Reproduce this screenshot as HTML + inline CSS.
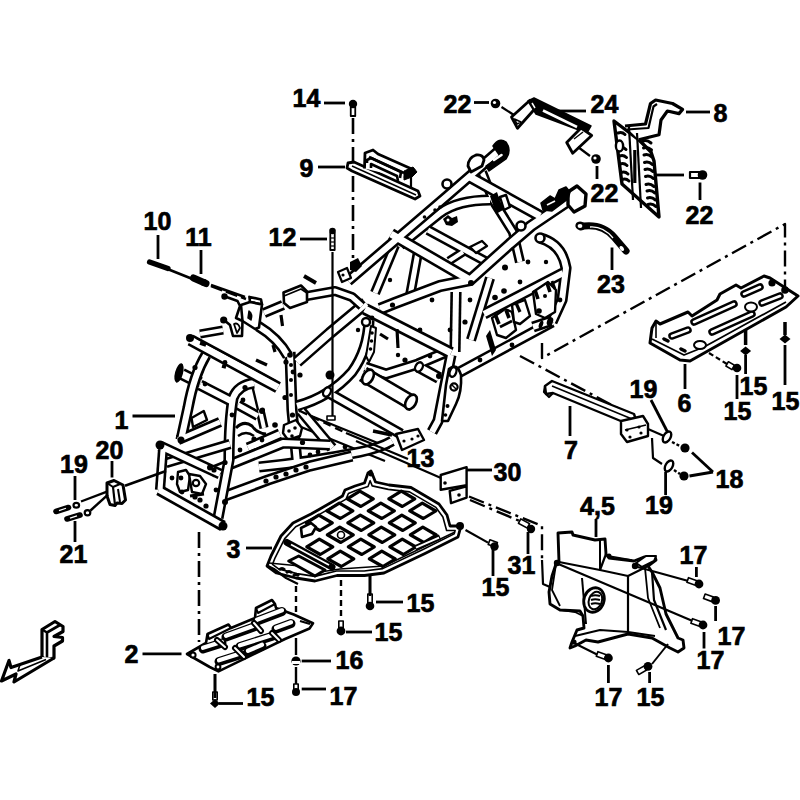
<!DOCTYPE html><html><head><meta charset="utf-8"><style>html,body{margin:0;padding:0;background:#fff;width:800px;height:800px;overflow:hidden}svg{display:block}</style></head><body>
<svg width="800" height="800" viewBox="0 0 800 800">
<rect width="800" height="800" fill="#fff"/>
<g stroke="#000" stroke-linecap="butt" stroke-linejoin="round" fill="none">
<path d="M540,238 Q 562,244 566,268 L 562,300 L 552,322" stroke-width="11.2" fill="none" stroke="#000" stroke-linecap="butt" stroke-linejoin="round"/>
<polyline points="484,314 563,273" stroke-width="11.2" fill="none" stroke="#000" stroke-linecap="butt" stroke-linejoin="round"/>
<polyline points="458,373 552,322" stroke-width="11.2" fill="none" stroke="#000" stroke-linecap="butt" stroke-linejoin="round"/>
<polyline points="456,292 455,352" stroke-width="11.2" fill="none" stroke="#000" stroke-linecap="butt" stroke-linejoin="round"/>
<polyline points="490,278 471,340" stroke-width="10.2" fill="none" stroke="#000" stroke-linecap="butt" stroke-linejoin="round"/>
<polyline points="428,230 485,261" stroke-width="10.2" fill="none" stroke="#000" stroke-linecap="butt" stroke-linejoin="round"/>
<polyline points="449,261 463,252" stroke-width="9.2" fill="none" stroke="#000" stroke-linecap="butt" stroke-linejoin="round"/>
<polyline points="482,172 493,200 513,232 520,262" stroke-width="10.2" fill="none" stroke="#000" stroke-linecap="butt" stroke-linejoin="round"/>
<path d="M400,245 L 440,213 Q 458,200 490,200" stroke-width="11.2" fill="none" stroke="#000" stroke-linecap="butt" stroke-linejoin="round"/>
<polyline points="395,245 375,293" stroke-width="10.2" fill="none" stroke="#000" stroke-linecap="butt" stroke-linejoin="round"/>
<polyline points="418,252 410,296" stroke-width="10.2" fill="none" stroke="#000" stroke-linecap="butt" stroke-linejoin="round"/>
<path d="M540,238 Q 562,244 566,268 L 562,300 L 552,322" stroke-width="6" fill="none" stroke="#fff" stroke-linecap="butt" stroke-linejoin="round"/>
<polyline points="484,314 563,273" stroke-width="6" fill="none" stroke="#fff" stroke-linecap="butt" stroke-linejoin="round"/>
<polyline points="458,373 552,322" stroke-width="6" fill="none" stroke="#fff" stroke-linecap="butt" stroke-linejoin="round"/>
<polyline points="456,292 455,352" stroke-width="6" fill="none" stroke="#fff" stroke-linecap="butt" stroke-linejoin="round"/>
<polyline points="490,278 471,340" stroke-width="5" fill="none" stroke="#fff" stroke-linecap="butt" stroke-linejoin="round"/>
<polyline points="428,230 485,261" stroke-width="5" fill="none" stroke="#fff" stroke-linecap="butt" stroke-linejoin="round"/>
<polyline points="449,261 463,252" stroke-width="4" fill="none" stroke="#fff" stroke-linecap="butt" stroke-linejoin="round"/>
<polyline points="482,172 493,200 513,232 520,262" stroke-width="5" fill="none" stroke="#fff" stroke-linecap="butt" stroke-linejoin="round"/>
<path d="M400,245 L 440,213 Q 458,200 490,200" stroke-width="6" fill="none" stroke="#fff" stroke-linecap="butt" stroke-linejoin="round"/>
<polyline points="395,245 375,293" stroke-width="5" fill="none" stroke="#fff" stroke-linecap="butt" stroke-linejoin="round"/>
<polyline points="418,252 410,296" stroke-width="5" fill="none" stroke="#fff" stroke-linecap="butt" stroke-linejoin="round"/>
<polyline points="391,234 470,280" stroke-width="12.2" fill="none" stroke="#000" stroke-linecap="butt" stroke-linejoin="round"/>
<polyline points="470,177 540,216" stroke-width="12.2" fill="none" stroke="#000" stroke-linecap="butt" stroke-linejoin="round"/>
<polyline points="348,281 447,196 470,176 501,149" stroke-width="11.2" fill="none" stroke="#000" stroke-linecap="butt" stroke-linejoin="round"/>
<polyline points="574,197 531,226 510,244 470,280 440,286 395,303 380,309" stroke-width="12.2" fill="none" stroke="#000" stroke-linecap="butt" stroke-linejoin="round"/>
<polyline points="391,234 470,280" stroke-width="7" fill="none" stroke="#fff" stroke-linecap="butt" stroke-linejoin="round"/>
<polyline points="470,177 540,216" stroke-width="7" fill="none" stroke="#fff" stroke-linecap="butt" stroke-linejoin="round"/>
<polyline points="348,281 447,196 470,176 501,149" stroke-width="6" fill="none" stroke="#fff" stroke-linecap="butt" stroke-linejoin="round"/>
<polyline points="574,197 531,226 510,244 470,280 440,286 395,303 380,309" stroke-width="7" fill="none" stroke="#fff" stroke-linecap="butt" stroke-linejoin="round"/>
<path d="M470,247 L482,241 L487,246 L476,253 Z" fill="#fff" stroke-width="2.4"/>
<path d="M493,146 Q 499,137 506,142 Q 512,150 506,159 L 489,171 L 486,166 L 500,156 Z" fill="#000" stroke-width="1.5"/>
<line x1="494" y1="160" x2="501.5" y2="155" stroke="#fff" stroke-width="2.6" stroke-linecap="round"/>
<path d="M468,166 Q 468,158 476,155 Q 483,154 484,160 L 482,166 L 471,172 Z" fill="#fff" stroke-width="2.8"/>
<path d="M568,192 L577,186 L586,194 L585,206 L574,212 L568,205 Z" fill="#fff" stroke-width="3.4" stroke-linejoin="round"/>
<path d="M543,210 L541,203 L550,196 L555,199 L559,190 L566,187 L570,192 L568,199 L552,211 Z" fill="#000" stroke-width="1.5"/>
<path d="M547,205 L555,201" stroke="#fff" stroke-width="1.8"/>
<circle cx="447" cy="184" r="4.5" fill="#fff" stroke-width="2.6"/>
<circle cx="521" cy="226" r="4.5" fill="#fff" stroke-width="2.6"/>
<circle cx="540" cy="238" r="4.5" fill="#fff" stroke-width="2.6"/>
<circle cx="424.5" cy="217" r="1.8" fill="#000" stroke="none"/>
<circle cx="435" cy="210" r="1.8" fill="#000" stroke="none"/>
<circle cx="440" cy="207" r="1.8" fill="#000" stroke="none"/>
<path d="M490,196 L497,192 L503,210 L496,214 Z" fill="#000" stroke="none"/>
<path d="M500,197 L506,195 L510,207 L504,210 Z" fill="#fff" stroke-width="2.4"/>
<path d="M492,318 L505,309 L512,312 L516,330 L506,338 L497,335 Z" fill="#fff" stroke-width="2.4"/>
<line x1="495" y1="314" x2="499" y2="324" stroke-width="3.6"/>
<line x1="506" y1="310" x2="509" y2="318" stroke-width="3.6"/>
<line x1="500" y1="327" x2="512" y2="321" stroke-width="2.8"/>
<path d="M512,305 L525,300 L530,316 L520,324 L514,322 Z" fill="#fff" stroke-width="2.4"/>
<line x1="516" y1="303" x2="520" y2="312" stroke-width="3.2"/>
<path d="M533,292 L548,282 L556,290 L555,312 L545,318 L536,314 Z" fill="#fff" stroke-width="2.4"/>
<line x1="535" y1="290" x2="538" y2="299" stroke-width="3.6"/>
<line x1="547" y1="283" x2="550" y2="292" stroke-width="3.6"/>
<line x1="552" y1="281" x2="555" y2="289" stroke-width="2.8"/>
<circle cx="539" cy="311" r="2.8" fill="#000" stroke="none"/>
<circle cx="545" cy="296" r="2" fill="#000" stroke="none"/>
<polyline points="533,327 551,321" stroke-width="11.2" fill="none" stroke="#000" stroke-linecap="butt" stroke-linejoin="round"/>
<polyline points="533,327 551,321" stroke-width="6" fill="none" stroke="#fff" stroke-linecap="butt" stroke-linejoin="round"/>
<ellipse cx="550" cy="321.5" rx="3" ry="4.5" fill="#000" stroke="none" transform="rotate(20 550 321.5)"/>
<ellipse cx="541" cy="324.5" rx="2" ry="4" fill="#000" stroke="none" transform="rotate(20 541 324.5)"/>
<circle cx="505" cy="267.5" r="3" fill="#000" stroke="none"/>
<circle cx="504" cy="291" r="2.8" fill="#000" stroke="none"/>
<circle cx="495" cy="297.5" r="2.8" fill="#000" stroke="none"/>
<circle cx="471" cy="283" r="3" fill="#000" stroke="none"/>
<path d="M486,336 L490,330 L496,350 L492,356 Z" fill="#000" stroke="none"/>
<polyline points="365,367 386,374 418,364 444,353" stroke-width="11.2" fill="none" stroke="#000" stroke-linecap="butt" stroke-linejoin="round"/>
<polyline points="419,367 439,378" stroke-width="12.2" fill="none" stroke="#000" stroke-linecap="butt" stroke-linejoin="round"/>
<polyline points="365,367 386,374 418,364 444,353" stroke-width="6" fill="none" stroke="#fff" stroke-linecap="butt" stroke-linejoin="round"/>
<polyline points="419,367 439,378" stroke-width="7" fill="none" stroke="#fff" stroke-linecap="butt" stroke-linejoin="round"/>
<ellipse cx="419" cy="367" rx="3.5" ry="5" fill="#fff" stroke-width="2.4" transform="rotate(30 419 367)"/>
<polyline points="363,374 414,404" stroke-width="16.2" fill="none" stroke="#000" stroke-linecap="butt" stroke-linejoin="round"/>
<polyline points="363,374 414,404" stroke-width="11" fill="none" stroke="#fff" stroke-linecap="butt" stroke-linejoin="round"/>
<ellipse cx="368" cy="377" rx="5" ry="8" fill="#fff" stroke-width="2.6" transform="rotate(30 368 377)"/>
<ellipse cx="411" cy="402" rx="5" ry="8" fill="#fff" stroke-width="2.6" transform="rotate(30 411 402)"/>
<polyline points="299,411 390,448" stroke-width="2.4" fill="none"/>
<polyline points="301,427 385,461" stroke-width="2.4" fill="none"/>
<path d="M369,320 Q 368,350 352,372 Q 330,397 297,406" stroke-width="11.2" fill="none" stroke="#000" stroke-linecap="butt" stroke-linejoin="round"/>
<polyline points="451,355 445,385 438,421 432,432" stroke-width="11.2" fill="none" stroke="#000" stroke-linecap="butt" stroke-linejoin="round"/>
<polyline points="297,362 330,333 366,303" stroke-width="12.2" fill="none" stroke="#000" stroke-linecap="butt" stroke-linejoin="round"/>
<polyline points="365,309 451,353" stroke-width="12.2" fill="none" stroke="#000" stroke-linecap="butt" stroke-linejoin="round"/>
<polyline points="327,392 401,434" stroke-width="11.2" fill="none" stroke="#000" stroke-linecap="butt" stroke-linejoin="round"/>
<path d="M259,467 Q 310,462 360,452 Q 380,448 392,441" stroke-width="11.2" fill="none" stroke="#000" stroke-linecap="butt" stroke-linejoin="round"/>
<polyline points="301,411 332,448" stroke-width="11.2" fill="none" stroke="#000" stroke-linecap="butt" stroke-linejoin="round"/>
<polyline points="290,352 292,410 297,463" stroke-width="11.2" fill="none" stroke="#000" stroke-linecap="butt" stroke-linejoin="round"/>
<polyline points="248,448 280,434" stroke-width="11.2" fill="none" stroke="#000" stroke-linecap="butt" stroke-linejoin="round"/>
<path d="M369,320 Q 368,350 352,372 Q 330,397 297,406" stroke-width="6" fill="none" stroke="#fff" stroke-linecap="butt" stroke-linejoin="round"/>
<polyline points="451,355 445,385 438,421 432,432" stroke-width="6" fill="none" stroke="#fff" stroke-linecap="butt" stroke-linejoin="round"/>
<polyline points="297,362 330,333 366,303" stroke-width="7" fill="none" stroke="#fff" stroke-linecap="butt" stroke-linejoin="round"/>
<polyline points="365,309 451,353" stroke-width="7" fill="none" stroke="#fff" stroke-linecap="butt" stroke-linejoin="round"/>
<polyline points="327,392 401,434" stroke-width="6" fill="none" stroke="#fff" stroke-linecap="butt" stroke-linejoin="round"/>
<path d="M259,467 Q 310,462 360,452 Q 380,448 392,441" stroke-width="6" fill="none" stroke="#fff" stroke-linecap="butt" stroke-linejoin="round"/>
<polyline points="301,411 332,448" stroke-width="6" fill="none" stroke="#fff" stroke-linecap="butt" stroke-linejoin="round"/>
<polyline points="290,352 292,410 297,463" stroke-width="6" fill="none" stroke="#fff" stroke-linecap="butt" stroke-linejoin="round"/>
<polyline points="248,448 280,434" stroke-width="6" fill="none" stroke="#fff" stroke-linecap="butt" stroke-linejoin="round"/>
<path d="M449,369 Q 457,362 461,375 Q 462,392 456,404 L 448,421 L 442,421 L 446,385 Z" fill="#fff" stroke-width="2.6"/>
<ellipse cx="453" cy="372" rx="3.2" ry="5" fill="#fff" stroke-width="2.4" transform="rotate(20 453 372)"/>
<circle cx="454" cy="387" r="3.6" fill="#fff" stroke-width="2.2"/>
<line x1="452" y1="385" x2="456" y2="389" stroke-width="1.4"/>
<circle cx="447.5" cy="406" r="2" fill="#000" stroke="none"/>
<circle cx="445.5" cy="415" r="1.8" fill="#000" stroke="none"/>
<circle cx="439" cy="376" r="3" fill="#000" stroke="none"/>
<ellipse cx="327" cy="392" rx="3.5" ry="5" fill="#fff" stroke-width="2.4" transform="rotate(30 327 392)"/>
<line x1="373" y1="431" x2="392" y2="435" stroke-width="3.5"/>
<polygon points="396,434 418,429 424,440 402,450" fill="#fff" stroke-width="2.4"/>
<circle cx="404" cy="441" r="1.6" fill="#000" stroke="none"/>
<circle cx="412" cy="439" r="1.6" fill="#000" stroke="none"/>
<circle cx="418" cy="436" r="1.6" fill="#000" stroke="none"/>
<path d="M284,425 L296,420 L302,428 L300,436 L288,440 L283,433 Z" fill="#fff" stroke-width="2.4"/>
<circle cx="289" cy="431" r="1.8" fill="#000" stroke="none"/>
<circle cx="295" cy="428" r="1.8" fill="#000" stroke="none"/>
<circle cx="292" cy="436" r="1.8" fill="#000" stroke="none"/>
<circle cx="291" cy="365" r="2" fill="#000" stroke="none"/>
<circle cx="291" cy="380" r="2" fill="#000" stroke="none"/>
<circle cx="291" cy="395" r="2" fill="#000" stroke="none"/>
<line x1="397" y1="329" x2="398" y2="348" stroke-width="3.2"/>
<line x1="380" y1="334" x2="388" y2="339" stroke-width="3.2"/>
<circle cx="405" cy="360" r="2.6" fill="#000" stroke="none"/>
<circle cx="330" cy="375" r="4.5" fill="#000" stroke="none"/>
<path d="M258,326 Q 278,338 288,356" stroke-width="11.2" fill="none" stroke="#000" stroke-linecap="butt" stroke-linejoin="round"/>
<polyline points="264,313 283,305" stroke-width="10.2" fill="none" stroke="#000" stroke-linecap="butt" stroke-linejoin="round"/>
<polyline points="307,296 335,291 352,297 362,306" stroke-width="10.2" fill="none" stroke="#000" stroke-linecap="butt" stroke-linejoin="round"/>
<polyline points="200,334 223,330" stroke-width="9.2" fill="none" stroke="#000" stroke-linecap="butt" stroke-linejoin="round"/>
<path d="M258,326 Q 278,338 288,356" stroke-width="6" fill="none" stroke="#fff" stroke-linecap="butt" stroke-linejoin="round"/>
<polyline points="264,313 283,305" stroke-width="5" fill="none" stroke="#fff" stroke-linecap="butt" stroke-linejoin="round"/>
<polyline points="307,296 335,291 352,297 362,306" stroke-width="5" fill="none" stroke="#fff" stroke-linecap="butt" stroke-linejoin="round"/>
<polyline points="200,334 223,330" stroke-width="4" fill="none" stroke="#fff" stroke-linecap="butt" stroke-linejoin="round"/>
<polygon points="283.5,292.5 301,285.5 307,291.5 307,302 290,308 284,303" fill="#fff" stroke-width="2.6"/>
<polyline points="284,296 301,289 307,293" stroke-width="1.8" fill="none"/>
<polygon points="249.4,296.9 261,299.4 262,304.4 250,302" fill="#fff" stroke-width="2.6"/>
<path d="M241,305 L250,302 L262,304.4 L259,327.5 L255,329 L242.5,321 Z" fill="#fff" stroke-width="2.6"/>
<path d="M249,311 Q 253,314 251,320 L248,318 Z" fill="#000" stroke-width="1.5"/>
<path d="M223.7,296 L237.5,301 L240,306 L236,318 L242.5,321 L242,336 L233,336 L230,325 L224,320" fill="#fff" stroke-width="2.6"/>
<path d="M234,324 Q 238,322 240,328 L 237,333 Z" fill="#fff" stroke-width="1.8"/>
<circle cx="224.5" cy="296.5" r="3.2" fill="#000" stroke="none"/>
<circle cx="223.7" cy="320" r="3.6" fill="#000" stroke="none"/>
<line x1="211" y1="285" x2="245" y2="297" stroke-width="2.6"/>
<circle cx="204" cy="282.5" r="3.5" fill="#000" stroke="none"/>
<line x1="281" y1="315" x2="282.5" y2="326" stroke-width="3.2"/>
<line x1="304" y1="276" x2="316" y2="283" stroke-width="3.8"/>
<circle cx="366" cy="322" r="4" fill="#fff" stroke-width="2.4"/>
<path d="M371,326 L376,328 L374,352 L369,362 L366,356 Z" fill="#fff" stroke-width="2"/>
<circle cx="372" cy="333" r="1.8" fill="#000" stroke="none"/>
<circle cx="371.5" cy="341" r="1.8" fill="#000" stroke="none"/>
<circle cx="370.5" cy="349" r="1.8" fill="#000" stroke="none"/>
<line x1="273" y1="345" x2="275" y2="352" stroke-width="3.2"/>
<line x1="256" y1="360" x2="267" y2="365" stroke-width="3.4"/>
<polyline points="238,405 258,416" stroke-width="10.2" fill="none" stroke="#000" stroke-linecap="butt" stroke-linejoin="round"/>
<polyline points="260,410 264,428" stroke-width="9.2" fill="none" stroke="#000" stroke-linecap="butt" stroke-linejoin="round"/>
<polyline points="238,405 258,416" stroke-width="5" fill="none" stroke="#fff" stroke-linecap="butt" stroke-linejoin="round"/>
<polyline points="260,410 264,428" stroke-width="4" fill="none" stroke="#fff" stroke-linecap="butt" stroke-linejoin="round"/>
<path d="M236,428 Q 244,420 252,426 Q 257,433 266,434" stroke-width="3" fill="none"/>
<path d="M238,436 Q 246,430 254,436" stroke-width="2.4" fill="none"/>
<line x1="252" y1="385" x2="258" y2="410" stroke-width="2.4"/>
<circle cx="262" cy="411" r="3" fill="#000" stroke="none"/>
<circle cx="275" cy="425" r="2.8" fill="#000" stroke="none"/>
<circle cx="254" cy="439" r="2.6" fill="#000" stroke="none"/>
<circle cx="243" cy="400" r="2.4" fill="#000" stroke="none"/>
<polyline points="211,472 283,443 330,445" stroke-width="11.2" fill="none" stroke="#000" stroke-linecap="butt" stroke-linejoin="round"/>
<polyline points="222,497 268,480 310,466 352,456" stroke-width="11.2" fill="none" stroke="#000" stroke-linecap="butt" stroke-linejoin="round"/>
<polyline points="211,472 283,443 330,445" stroke-width="6" fill="none" stroke="#fff" stroke-linecap="butt" stroke-linejoin="round"/>
<polyline points="222,497 268,480 310,466 352,456" stroke-width="6" fill="none" stroke="#fff" stroke-linecap="butt" stroke-linejoin="round"/>
<circle cx="266" cy="481" r="2.6" fill="#000" stroke="none"/>
<circle cx="276" cy="477" r="2.6" fill="#000" stroke="none"/>
<circle cx="286" cy="474" r="2.6" fill="#000" stroke="none"/>
<circle cx="296" cy="470" r="2.6" fill="#000" stroke="none"/>
<circle cx="306" cy="467" r="2.6" fill="#000" stroke="none"/>
<polyline points="182,374 200,383" stroke-width="12.2" fill="none" stroke="#000" stroke-linecap="butt" stroke-linejoin="round"/>
<polyline points="182,374 200,383" stroke-width="7" fill="none" stroke="#fff" stroke-linecap="butt" stroke-linejoin="round"/>
<ellipse cx="179" cy="373" rx="4" ry="10" fill="#000" stroke="none" transform="rotate(15 179 373)"/>
<polyline points="200,385 233,402" stroke-width="11.2" fill="none" stroke="#000" stroke-linecap="butt" stroke-linejoin="round"/>
<polyline points="178,440 220,422" stroke-width="10.2" fill="none" stroke="#000" stroke-linecap="butt" stroke-linejoin="round"/>
<path d="M206,355 Q 194,375 188,408 L 181,440" stroke-width="11.2" fill="none" stroke="#000" stroke-linecap="butt" stroke-linejoin="round"/>
<path d="M254,383 Q 238,385 233,398 Q 229,420 229,460 L 218,518" stroke-width="11.2" fill="none" stroke="#000" stroke-linecap="butt" stroke-linejoin="round"/>
<polyline points="200,385 233,402" stroke-width="6" fill="none" stroke="#fff" stroke-linecap="butt" stroke-linejoin="round"/>
<polyline points="178,440 220,422" stroke-width="5" fill="none" stroke="#fff" stroke-linecap="butt" stroke-linejoin="round"/>
<path d="M206,355 Q 194,375 188,408 L 181,440" stroke-width="6" fill="none" stroke="#fff" stroke-linecap="butt" stroke-linejoin="round"/>
<path d="M254,383 Q 238,385 233,398 Q 229,420 229,460 L 218,518" stroke-width="6" fill="none" stroke="#fff" stroke-linecap="butt" stroke-linejoin="round"/>
<polygon points="191.5,418 203.75,411 207,420 193,427" fill="#fff" stroke-width="2.4"/>
<polyline points="190.5,340 278,387.5" stroke-width="12.2" fill="none" stroke="#000" stroke-linecap="butt" stroke-linejoin="round"/>
<polyline points="190.5,340 278,387.5" stroke-width="7" fill="none" stroke="#fff" stroke-linecap="butt" stroke-linejoin="round"/>
<line x1="196" y1="338" x2="276" y2="381" stroke-width="1.6"/>
<line x1="200" y1="343" x2="206" y2="345" stroke-width="3.5"/>
<line x1="222" y1="366" x2="226" y2="367" stroke-width="3.5"/>
<polyline points="166,463 230,444" stroke-width="10.2" fill="none" stroke="#000" stroke-linecap="butt" stroke-linejoin="round"/>
<polyline points="166,463 230,444" stroke-width="5" fill="none" stroke="#fff" stroke-linecap="butt" stroke-linejoin="round"/>
<polyline points="160,446 220,474" stroke-width="11.2" fill="none" stroke="#000" stroke-linecap="butt" stroke-linejoin="round"/>
<polyline points="163,450 160,490" stroke-width="10.2" fill="none" stroke="#000" stroke-linecap="butt" stroke-linejoin="round"/>
<polyline points="159,490 223,526" stroke-width="11.2" fill="none" stroke="#000" stroke-linecap="butt" stroke-linejoin="round"/>
<polyline points="160,446 220,474" stroke-width="6" fill="none" stroke="#fff" stroke-linecap="butt" stroke-linejoin="round"/>
<polyline points="163,450 160,490" stroke-width="5" fill="none" stroke="#fff" stroke-linecap="butt" stroke-linejoin="round"/>
<polyline points="159,490 223,526" stroke-width="6" fill="none" stroke="#fff" stroke-linecap="butt" stroke-linejoin="round"/>
<circle cx="160" cy="445" r="4.5" fill="#000" stroke="none"/>
<circle cx="223" cy="526" r="4.5" fill="#000" stroke="none"/>
<circle cx="190" cy="338" r="4" fill="#000" stroke="none"/>
<path d="M178,472 L186,470 L190,476 L188,490 L180,492 L177,484 Z" fill="#fff" stroke-width="2.4"/>
<path d="M189,474 L200,476 L206,484 L202,494 L192,492 Z" fill="#fff" stroke-width="2.4"/>
<circle cx="196" cy="483" r="3.2" fill="#fff" stroke-width="2.2"/>
<circle cx="181" cy="478" r="2.4" fill="#000" stroke="none"/>
<circle cx="195" cy="497" r="2.6" fill="#000" stroke="none"/>
<circle cx="206" cy="506" r="2.6" fill="#000" stroke="none"/>
<circle cx="210" cy="467.5" r="3" fill="#000" stroke="none"/>
<circle cx="225" cy="502" r="3" fill="#000" stroke="none"/>
<line x1="190" y1="496" x2="204" y2="494" stroke-width="3"/>
<circle cx="195" cy="367.5" r="2.6" fill="#000" stroke="none"/>
<circle cx="225" cy="362.5" r="2.4" fill="#000" stroke="none"/>
<circle cx="245" cy="387.5" r="2.6" fill="#000" stroke="none"/>
<circle cx="290" cy="355" r="2.8" fill="#000" stroke="none"/>
<circle cx="300" cy="375" r="2.6" fill="#000" stroke="none"/>
<circle cx="285" cy="397.5" r="2.6" fill="#000" stroke="none"/>
<circle cx="292.5" cy="415" r="2.6" fill="#000" stroke="none"/>
<circle cx="262.5" cy="410" r="2.4" fill="#000" stroke="none"/>
<circle cx="181" cy="440" r="3.5" fill="#000" stroke="none"/>
<circle cx="225" cy="462.5" r="2.6" fill="#000" stroke="none"/>
<circle cx="302.5" cy="442.5" r="2.6" fill="#000" stroke="none"/>
<circle cx="310" cy="455" r="2.4" fill="#000" stroke="none"/>
<circle cx="355" cy="265" r="3.2" fill="#000" stroke="none"/>
<circle cx="392.5" cy="305" r="2.6" fill="#000" stroke="none"/>
<circle cx="390" cy="280" r="2.2" fill="#000" stroke="none"/>
<circle cx="286" cy="362" r="2.6" fill="#000" stroke="none"/>
<circle cx="293" cy="372" r="2.4" fill="#000" stroke="none"/>
<circle cx="205" cy="384" r="2.4" fill="#000" stroke="none"/>
<circle cx="232" cy="415" r="2.4" fill="#000" stroke="none"/>
<circle cx="214" cy="470" r="2.6" fill="#000" stroke="none"/>
<circle cx="216" cy="490" r="2.4" fill="#000" stroke="none"/>
<circle cx="172" cy="478" r="2.4" fill="#000" stroke="none"/>
<circle cx="182" cy="492" r="2.4" fill="#000" stroke="none"/>
<circle cx="200" cy="500" r="2.6" fill="#000" stroke="none"/>
<circle cx="240" cy="450" r="2.4" fill="#000" stroke="none"/>
<circle cx="262" cy="440" r="2.4" fill="#000" stroke="none"/>
<circle cx="318" cy="452" r="2.4" fill="#000" stroke="none"/>
<circle cx="345" cy="447" r="2.4" fill="#000" stroke="none"/>
<circle cx="372" cy="318" r="2.4" fill="#000" stroke="none"/>
<circle cx="358" cy="330" r="2.2" fill="#000" stroke="none"/>
<circle cx="420" cy="330" r="2.4" fill="#000" stroke="none"/>
<circle cx="432" cy="300" r="2.4" fill="#000" stroke="none"/>
<circle cx="470" cy="300" r="2.4" fill="#000" stroke="none"/>
<circle cx="465" cy="322" r="2.6" fill="#000" stroke="none"/>
<circle cx="520" cy="282" r="2.4" fill="#000" stroke="none"/>
<circle cx="528" cy="262" r="2.4" fill="#000" stroke="none"/>
<circle cx="546" cy="262" r="2.2" fill="#000" stroke="none"/>
<circle cx="560" cy="300" r="2.4" fill="#000" stroke="none"/>
<circle cx="430" cy="356" r="2.4" fill="#000" stroke="none"/>
<circle cx="398" cy="355" r="2.2" fill="#000" stroke="none"/>
<circle cx="450" cy="330" r="2.4" fill="#000" stroke="none"/>
<circle cx="512" cy="345" r="2.4" fill="#000" stroke="none"/>
<circle cx="480" cy="360" r="2.4" fill="#000" stroke="none"/>
<path d="M443,219 L448,215 L452,218 L457,216 L458,222 L452,226 L446,225 Z" fill="#000" stroke="none"/>
<circle cx="448" cy="220" r="1.5" fill="#fff" stroke="none"/>
<path d="M350,262 L358,258 L362,266 L356,272 L350,270 Z" fill="#000" stroke="none"/>
<path d="M338,272 L347,268 L351,278 L342,282 Z" fill="#fff" stroke-width="2.2"/>
<circle cx="343" cy="275" r="1.6" fill="#000" stroke="none"/>
<line x1="353" y1="118" x2="353" y2="268" stroke-width="2.6" stroke-dasharray="16,5,3,5"/>
<line x1="332.5" y1="252" x2="332.5" y2="418" stroke-width="2.2"/>
<rect x="327" y="416" width="8" height="4" fill="#fff" stroke-width="1.6"/>
<line x1="211" y1="286" x2="246" y2="299" stroke-width="2.6" stroke-dasharray="12,4"/>
<line x1="125" y1="485.7" x2="166" y2="471" stroke-width="2.6"/>
<line x1="199" y1="532" x2="199" y2="642" stroke-width="2.6" stroke-dasharray="16,5,3,5"/>
<line x1="296" y1="586" x2="296" y2="618" stroke-width="2.4" stroke-dasharray="6,4"/>
<line x1="296" y1="638" x2="296" y2="655" stroke-width="2.4"/>
<line x1="296" y1="667" x2="296" y2="684" stroke-width="2.4"/>
<line x1="341" y1="580" x2="341" y2="620" stroke-width="2.4" stroke-dasharray="6,4"/>
<polyline points="542,343 542,358 785,224 785,300" stroke-width="2.4" fill="none" stroke-dasharray="16,5,3,5"/>
<line x1="520" y1="356" x2="636" y2="418" stroke-width="2.4" stroke-dasharray="16,5,3,5"/>
<line x1="300" y1="411" x2="346" y2="433" stroke-width="2.4" stroke-dasharray="8,5"/>
<line x1="346" y1="433" x2="408" y2="459" stroke-width="2.4"/>
<line x1="356" y1="441" x2="441" y2="478" stroke-width="2.2"/>
<polyline points="469,496.5 542,526 542,560" stroke-width="2.4" fill="none" stroke-dasharray="16,5,3,5"/>
<line x1="470" y1="500" x2="522" y2="522" stroke-width="2.4" stroke-dasharray="16,5,3,5"/>
<rect x="350.75" y="107" width="4.5" height="9" fill="#fff" stroke-width="1.8"/>
<circle cx="353" cy="104" r="4.2" fill="#000" stroke="none"/>
<rect x="330.3" y="233" width="4.4" height="17" fill="#fff" stroke-width="1.8"/>
<line x1="330.5" y1="238" x2="334.5" y2="238" stroke-width="1.2"/>
<line x1="330.5" y1="242" x2="334.5" y2="242" stroke-width="1.2"/>
<line x1="330.5" y1="246" x2="334.5" y2="246" stroke-width="1.2"/>
<circle cx="332.5" cy="231" r="3.3" fill="#000" stroke="none"/>
<line x1="150" y1="262" x2="205" y2="284" stroke-width="2.6"/>
<line x1="149.5" y1="262" x2="168" y2="268.5" stroke-width="5.2" stroke-linecap="round"/>
<line x1="193.5" y1="278" x2="206" y2="283.5" stroke-width="7" stroke-linecap="round"/>
<polygon points="107,483 114,480.5 123,485 125.5,500 122,503.5 117,503 115,505.5 110,504.5 107,496" stroke-width="3.0" fill="#fff"/>
<polyline points="107,483 113,487 120,484" stroke-width="2.0" fill="none"/>
<polyline points="113,487 115,505" stroke-width="2.2" fill="none"/>
<polyline points="118,489 120,502" stroke-width="2.0" fill="none"/>
<line x1="107" y1="491.7" x2="81" y2="501.5" stroke-width="2.4"/>
<line x1="108" y1="494.7" x2="90.5" y2="510.5" stroke-width="2.4"/>
<ellipse cx="76.3" cy="505.3" rx="2.8" ry="2.4" fill="#fff" stroke-width="2.2"/>
<ellipse cx="87.5" cy="512.8" rx="2.8" ry="2.6" fill="#fff" stroke-width="2.2"/>
<line x1="56" y1="511.5" x2="68.5" y2="507.5" stroke-width="5.6" stroke-linecap="round"/>
<line x1="67" y1="519" x2="80" y2="515" stroke-width="5.6" stroke-linecap="round"/>
<line x1="59" y1="510.6" x2="66" y2="508.3" stroke="#fff" stroke-width="1.2"/>
<line x1="70" y1="518.1" x2="77" y2="515.9" stroke="#fff" stroke-width="1.2"/>
<polygon points="348,163 354,162 418,191 420,196 415,199 352,171 347,168" stroke-width="2.8" fill="#fff"/>
<line x1="352" y1="166" x2="416" y2="195" stroke-width="1.4"/>
<polyline points="364.5,168.5 365,153 373,150 378,154 414,170 411,175 404,178" stroke-width="2.8" fill="#fff"/>
<polyline points="369,157 404,173" stroke-width="2.6" fill="none"/>
<polyline points="367,163 367,160 371,158 401,172 400,178" stroke-width="2.6" fill="none"/>
<polyline points="371,168 371,164 397,176 398,181" stroke-width="2.6" fill="none"/>
<polygon points="404,171 413,167 417,172 412,177 404,180" fill="#000"/>
<line x1="411" y1="174" x2="411" y2="189" stroke-width="2.2"/>
<circle cx="495.5" cy="103.5" r="4.8" fill="#000" stroke="none"/>
<circle cx="494.5" cy="102.5" r="1.6" fill="#fff" stroke="none"/>
<line x1="501.5" y1="107" x2="513.5" y2="114.7" stroke-width="2.2"/>
<polygon points="511.5,117 530,100.3 536,107.5 517.5,128.3" fill="#fff" stroke-width="2.8"/>
<polygon points="514.5,119 517,124 521,122" fill="none" stroke-width="1.6"/>
<polygon points="528,101 534,98 591,126 587,133 536,114" fill="#000" stroke-width="1.5"/>
<line x1="543" y1="110.5" x2="577" y2="127" stroke="#fff" stroke-width="2.6"/>
<polygon points="581,128 591.7,135.4 572.7,153.2 566.7,142.5" fill="#fff" stroke-width="2.8"/>
<line x1="574" y1="139" x2="583" y2="132" stroke-width="1.4"/>
<line x1="532" y1="103" x2="535" y2="108" stroke="#fff" stroke-width="1.5"/>
<circle cx="596" cy="159" r="4.8" fill="#000" stroke="none"/>
<circle cx="595" cy="158" r="1.6" fill="#fff" stroke="none"/>
<line x1="578" y1="147" x2="590" y2="156" stroke-width="2.2"/>
<polygon points="614,121 639,140 651,152 654,161 659,217 622,184" stroke-width="3.4" fill="#fff"/>
<polyline points="625,126 645.5,124 650.5,103.5 655.6,100 672.5,103.5 682.6,109.4 679,113.6 667.4,111 661,120 659,134.7 638.7,139.8" stroke-width="3.2" fill="#fff"/>
<polyline points="627,129.5 648.5,128 653.5,106.5 657,104" stroke-width="2.2" fill="none"/>
<polyline points="629,127 633,200" stroke-width="2.2" fill="none"/>
<polyline points="637,133 641,208" stroke-width="2.2" fill="none"/>
<rect x="633.2" y="150" width="3.2" height="33" fill="#000" stroke="none"/>
<path d="M618,133 q 4,-1.5 7,1.5" stroke-width="3" fill="none" stroke-linecap="round"/>
<path d="M619,148 q 4,-1.5 7,1.5" stroke-width="3" fill="none" stroke-linecap="round"/>
<path d="M619.5,156 q 4,-1.5 7,1.5" stroke-width="3" fill="none" stroke-linecap="round"/>
<path d="M620,164 q 4,-1.5 7,1.5" stroke-width="3" fill="none" stroke-linecap="round"/>
<path d="M621,172.5 q 4,-1.5 7,1.5" stroke-width="3" fill="none" stroke-linecap="round"/>
<path d="M622,179.5 q 4,-1.5 7,1.5" stroke-width="3" fill="none" stroke-linecap="round"/>
<path d="M643,141 q 4,-1.5 8,2" stroke-width="3" fill="none" stroke-linecap="round"/>
<path d="M643.5,148 q 4,-1.5 8,2" stroke-width="3" fill="none" stroke-linecap="round"/>
<path d="M644,155 q 4,-1.5 8,2" stroke-width="3" fill="none" stroke-linecap="round"/>
<path d="M644.5,162.5 q 4,-1.5 8,2" stroke-width="3" fill="none" stroke-linecap="round"/>
<path d="M645,169.5 q 4,-1.5 8,2" stroke-width="3" fill="none" stroke-linecap="round"/>
<path d="M645.5,176.5 q 4,-1.5 8,2" stroke-width="3" fill="none" stroke-linecap="round"/>
<path d="M646,184.5 q 4,-1.5 8,2" stroke-width="3" fill="none" stroke-linecap="round"/>
<path d="M647,191 q 4,-1.5 8,2" stroke-width="3" fill="none" stroke-linecap="round"/>
<path d="M647.5,198 q 4,-1.5 8,2" stroke-width="3" fill="none" stroke-linecap="round"/>
<path d="M648,204.5 q 4,-1.5 8,2" stroke-width="3" fill="none" stroke-linecap="round"/>
<ellipse cx="619.5" cy="146" rx="3.6" ry="5.5" fill="#fff" stroke-width="2.4"/>
<rect x="690" y="172" width="9.5" height="6" fill="#fff" stroke-width="2.2"/>
<circle cx="702.5" cy="175" r="4.8" fill="#000" stroke="none"/>
<path d="M584,226 Q 603,224 614,237 L 626,251" stroke-width="7.2" stroke-linecap="round" fill="none"/>
<path d="M590,227 Q 603,226 613,238" stroke-width="1.3" stroke="#fff" fill="none"/>
<ellipse cx="580.5" cy="226" rx="5.2" ry="4.3" fill="#000" stroke="none" transform="rotate(15 580.5 226)"/>
<ellipse cx="580" cy="226" rx="2.4" ry="2" fill="#fff" stroke="none"/>
<ellipse cx="621.8" cy="248.5" rx="1.8" ry="2.8" fill="#fff" stroke="none" transform="rotate(-40 621.8 248.5)"/>
<polygon points="652,328 656,321 660,324 688,312 692,316 717,300 720,294 736,285 741,288 764,276 770,278 798,296 786,307 706,352 690,361 680,360 650,343" stroke-width="3.0" fill="#fff"/>
<polyline points="652,339 684,355 704,347 786,302" stroke-width="1.8" fill="none"/>
<polyline points="656,323 656,338" stroke-width="1.6" fill="none"/>
<line x1="694" y1="322" x2="734" y2="304" stroke-width="7.5" stroke-linecap="round"/>
<line x1="694" y1="322" x2="734" y2="304" stroke-width="2.6" stroke="#fff" stroke-linecap="round"/>
<line x1="712" y1="332" x2="752" y2="314" stroke-width="7.5" stroke-linecap="round"/>
<line x1="712" y1="332" x2="752" y2="314" stroke-width="2.6" stroke="#fff" stroke-linecap="round"/>
<line x1="672" y1="336" x2="688" y2="330" stroke-width="7.5" stroke-linecap="round"/>
<line x1="672" y1="336" x2="688" y2="330" stroke-width="2.6" stroke="#fff" stroke-linecap="round"/>
<line x1="744" y1="294" x2="760" y2="287" stroke-width="7.5" stroke-linecap="round"/>
<line x1="744" y1="294" x2="760" y2="287" stroke-width="2.6" stroke="#fff" stroke-linecap="round"/>
<line x1="762" y1="303" x2="780" y2="296" stroke-width="7.5" stroke-linecap="round"/>
<line x1="762" y1="303" x2="780" y2="296" stroke-width="2.6" stroke="#fff" stroke-linecap="round"/>
<ellipse cx="751" cy="307" rx="6" ry="4.5" fill="#fff" stroke-width="2"/>
<ellipse cx="700" cy="345" rx="6" ry="4" fill="#fff" stroke-width="2"/>
<line x1="664" y1="339" x2="668" y2="341" stroke-width="3.5" stroke-linecap="round"/>
<line x1="681" y1="349" x2="685" y2="351" stroke-width="3.5" stroke-linecap="round"/>
<circle cx="772" cy="283" r="3.6" fill="#000" stroke="none"/>
<circle cx="785" cy="290" r="3.8" fill="#000" stroke="none"/>
<line x1="745.6" y1="330" x2="745.6" y2="345" stroke-width="3.5"/>
<polygon points="740.1,351 745.6,346.5 751.1,351 745.6,355.5" fill="#000" stroke="none"/>
<line x1="785" y1="322" x2="785" y2="335" stroke-width="3.5"/>
<polygon points="779.5,339 785,334.5 790.5,339 785,343.5" fill="#000" stroke="none"/>
<line x1="709" y1="353" x2="727" y2="364" stroke-width="2.2" stroke-dasharray="5,3"/>
<rect x="727" y="363" width="7" height="5" fill="#fff" stroke-width="1.6" transform="rotate(30 730 365)"/>
<circle cx="737" cy="368" r="4.3" fill="#000" stroke="none"/>
<polygon points="545,386 552,381 634,414 636,420 628,424 553,393 546,394" stroke-width="2.4" fill="#fff"/>
<line x1="552" y1="386" x2="632" y2="419" stroke-width="1.6"/>
<polyline points="545,386 544,392 549,397 553,393" stroke-width="2.2" fill="none"/>
<polygon points="621,421 643,416 648,424 648,436 627,442 621,434" stroke-width="2.4" fill="#fff"/>
<line x1="625" y1="430" x2="646" y2="425" stroke-width="1.6"/>
<circle cx="627" cy="430" r="1.6" fill="#000" stroke="none"/>
<circle cx="639" cy="427" r="1.6" fill="#000" stroke="none"/>
<circle cx="630" cy="437" r="1.6" fill="#000" stroke="none"/>
<circle cx="641" cy="433" r="1.6" fill="#000" stroke="none"/>
<line x1="648" y1="429" x2="664" y2="436" stroke-width="2.2"/>
<polyline points="652,438 653,458 662,464" stroke-width="2.2" fill="none"/>
<ellipse cx="667" cy="437" rx="3.5" ry="6" fill="#fff" stroke-width="2.4" transform="rotate(30 667 437)"/>
<ellipse cx="669" cy="466" rx="3.5" ry="6" fill="#fff" stroke-width="2.4" transform="rotate(30 669 466)"/>
<line x1="672" y1="442" x2="680" y2="446" stroke-width="2.4" stroke-dasharray="3,2"/>
<circle cx="685" cy="448" r="4.6" fill="#000" stroke="none"/>
<line x1="674" y1="470" x2="680" y2="474" stroke-width="2.4" stroke-dasharray="3,2"/>
<circle cx="684" cy="476" r="4.6" fill="#000" stroke="none"/>
<polygon points="440.7,475 466.6,467.2 466.6,485.2 440.7,489.7" stroke-width="2.4" fill="#fff"/>
<polygon points="449.7,490.9 466.6,486.4 466.6,497.6 451,503.2" stroke-width="2.4" fill="#fff"/>
<circle cx="445" cy="483" r="1.8" fill="#000" stroke="none"/>
<circle cx="459" cy="495" r="1.8" fill="#000" stroke="none"/>
<rect x="519" y="521" width="10" height="5" fill="#fff" stroke-width="1.6" transform="rotate(28 524 523.5)"/>
<circle cx="531" cy="529" r="4.2" fill="#000" stroke="none"/>
<polygon points="267,566 271,556 281,536 293,523 311,514 319,509.5 342.5,496 345,490 355,486 364.5,483 368,473 371,471 375.5,482 389,485 411,487.5 439,504 447,515 450,526 461,526 458,537 425,553.5 384,573 364.5,575.5 337,575.5 315,581 296,578 276.5,573" stroke-width="2.8" fill="#fff"/>
<polygon points="272.5,564.4 278.5,568.9 296.9,573.6 314.8,576.4 336.4,571.0 364.2,571.0 382.7,568.6 423.0,549.5 454.2,533.9 455.1,530.5 446.6,530.5 442.9,517.0 435.9,507.4 409.5,491.9 388.3,489.4 372.2,485.9 370.1,480.7 368.0,486.6 356.5,490.2 348.4,493.5 346.1,499.1 321.2,513.4 313.1,518.0 295.7,526.7 284.7,538.6 275.1,557.8" stroke-width="1.6" fill="none"/>
<polyline points="269,563 300,566 320,572 340,569 384,566 455,532" stroke-width="1.4" fill="none"/>
<polygon points="326.8,510.8 339.3,503.2 352.8,511.0 340.3,518.5" fill="#fff" stroke-width="3.2" stroke-linejoin="round"/>
<polygon points="347.8,522.8 360.3,515.2 373.8,523.0 361.3,530.5" fill="#fff" stroke-width="3.2" stroke-linejoin="round"/>
<polygon points="368.8,534.8 381.3,527.2 394.8,535.0 382.3,542.5" fill="#fff" stroke-width="3.2" stroke-linejoin="round"/>
<polygon points="389.8,546.8 402.3,539.2 415.8,547.0 403.3,554.5" fill="#fff" stroke-width="3.2" stroke-linejoin="round"/>
<polygon points="347.3,498.8 359.8,491.2 373.3,499.0 360.8,506.5" fill="#fff" stroke-width="3.2" stroke-linejoin="round"/>
<polygon points="368.3,510.8 380.8,503.2 394.3,511.0 381.8,518.5" fill="#fff" stroke-width="3.2" stroke-linejoin="round"/>
<polygon points="389.3,522.8 401.8,515.2 415.3,523.0 402.8,530.5" fill="#fff" stroke-width="3.2" stroke-linejoin="round"/>
<polygon points="410.3,534.8 422.8,527.2 436.3,535.0 423.8,542.5" fill="#fff" stroke-width="3.2" stroke-linejoin="round"/>
<polygon points="388.8,498.8 401.3,491.2 414.8,499.0 402.3,506.5" fill="#fff" stroke-width="3.2" stroke-linejoin="round"/>
<polygon points="409.8,510.8 422.3,503.2 435.8,511.0 423.3,518.5" fill="#fff" stroke-width="3.2" stroke-linejoin="round"/>
<polygon points="306.3,522.8 318.8,515.2 332.3,523.0 319.8,530.5" fill="#fff" stroke-width="3.2" stroke-linejoin="round"/>
<polygon points="327.3,534.8 339.8,527.2 353.3,535.0 340.8,542.5" fill="#fff" stroke-width="3.2" stroke-linejoin="round"/>
<polygon points="348.3,546.8 360.8,539.2 374.3,547.0 361.8,554.5" fill="#fff" stroke-width="3.2" stroke-linejoin="round"/>
<polygon points="369.3,558.8 381.8,551.2 395.3,559.0 382.8,566.5" fill="#fff" stroke-width="3.2" stroke-linejoin="round"/>
<polygon points="306.8,546.8 319.3,539.2 332.8,547.0 320.3,554.5" fill="#fff" stroke-width="3.2" stroke-linejoin="round"/>
<polygon points="327.8,558.8 340.3,551.2 353.8,559.0 341.3,566.5" fill="#fff" stroke-width="3.2" stroke-linejoin="round"/>
<path d="M301,528 L311,523 L316,527 L312,534 L302,537 Z" fill="#fff" stroke-width="2.6" stroke-linejoin="round"/>
<circle cx="341" cy="535" r="3.5" fill="#fff" stroke-width="1.6"/>
<line x1="287" y1="542.5" x2="332" y2="567" stroke-width="7" stroke-linecap="round"/>
<line x1="291" y1="544.5" x2="329" y2="565" stroke-width="1.8" stroke="#fff"/>
<path d="M288.7,561 L298.7,556 L325,570 L315,576 Z" fill="#fff" stroke-width="3"/>
<path d="M279,570 q 3,-3 6,0" stroke-width="2.6" fill="none"/>
<path d="M286,573 q 3,-3 6,0" stroke-width="2.6" fill="none"/>
<path d="M293,576 q 3,-3 6,0" stroke-width="2.6" fill="none"/>
<path d="M268,566 L274,569 L286,578 L298,584" stroke-width="2.2" fill="none"/>
<line x1="415" y1="548" x2="440" y2="537" stroke-width="5.5"/>
<line x1="416" y1="547.6" x2="439" y2="537.6" stroke-width="1.6"/>
<line x1="416" y1="547.6" x2="439" y2="537.6" stroke="#fff" stroke-width="2"/>
<circle cx="460" cy="526" r="4" fill="#000" stroke="none"/>
<circle cx="371" cy="474" r="2.5" fill="#000" stroke="none"/>
<line x1="465.5" y1="530" x2="488" y2="542.6" stroke-width="2.2"/>
<rect x="489" y="541" width="8" height="5" fill="#fff" stroke-width="1.6" transform="rotate(20 493 543)"/>
<circle cx="494.5" cy="546.5" r="4.2" fill="#000" stroke="none"/>
<line x1="370" y1="574" x2="370" y2="596" stroke-width="2.4"/>
<rect x="367.8" y="594" width="4.4" height="9" fill="#fff" stroke-width="1.6"/>
<circle cx="370" cy="606" r="4.3" fill="#000" stroke="none"/>
<rect x="338.8" y="621" width="4.4" height="8" fill="#fff" stroke-width="1.6"/>
<circle cx="341" cy="631" r="4.4" fill="#000" stroke="none"/>
<polygon points="187,654 206,643 207.5,634 228.5,624.5 231,628 255,618 256,608 272,600 275,604 276,608 293.7,614.5 313,623.2 309.5,628.5 285,639 218.5,671.4 209.7,667" stroke-width="2.6" fill="#fff"/>
<polyline points="207.5,634 209,639 231,628" stroke-width="2.0" fill="none"/>
<polyline points="256,608 258,613 275,604" stroke-width="2.0" fill="none"/>
<line x1="226" y1="637" x2="255" y2="626.5" stroke-width="9" stroke-linecap="round"/>
<line x1="226" y1="635.8" x2="255" y2="625.3" stroke-width="4.2" stroke="#fff" stroke-linecap="round"/>
<line x1="257" y1="621" x2="282" y2="611.5" stroke-width="9" stroke-linecap="round"/>
<line x1="257" y1="619.8" x2="282" y2="610.3" stroke-width="4.2" stroke="#fff" stroke-linecap="round"/>
<line x1="203" y1="649" x2="222" y2="643" stroke-width="9" stroke-linecap="round"/>
<line x1="203" y1="647.8" x2="222" y2="641.8" stroke-width="4.2" stroke="#fff" stroke-linecap="round"/>
<line x1="240" y1="646.5" x2="273" y2="636" stroke-width="9" stroke-linecap="round"/>
<line x1="240" y1="645.3" x2="273" y2="634.8" stroke-width="4.2" stroke="#fff" stroke-linecap="round"/>
<line x1="276" y1="629" x2="291" y2="623.5" stroke-width="9" stroke-linecap="round"/>
<line x1="276" y1="627.8" x2="291" y2="622.3" stroke-width="4.2" stroke="#fff" stroke-linecap="round"/>
<line x1="219" y1="661.5" x2="241" y2="654.5" stroke-width="9" stroke-linecap="round"/>
<line x1="219" y1="660.3" x2="241" y2="653.3" stroke-width="4.2" stroke="#fff" stroke-linecap="round"/>
<line x1="248" y1="652" x2="262" y2="646" stroke-width="9" stroke-linecap="round"/>
<line x1="248" y1="650.8" x2="262" y2="644.8" stroke-width="4.2" stroke="#fff" stroke-linecap="round"/>
<line x1="217" y1="640" x2="225" y2="647" stroke-width="6" stroke-linecap="round"/>
<line x1="217" y1="640" x2="225" y2="647" stroke-width="2" stroke="#fff" stroke-linecap="round"/>
<line x1="235" y1="648" x2="244" y2="657" stroke-width="6" stroke-linecap="round"/>
<line x1="235" y1="648" x2="244" y2="657" stroke-width="2" stroke="#fff" stroke-linecap="round"/>
<line x1="254" y1="623" x2="261" y2="631" stroke-width="6" stroke-linecap="round"/>
<line x1="254" y1="623" x2="261" y2="631" stroke-width="2" stroke="#fff" stroke-linecap="round"/>
<line x1="272" y1="633" x2="279" y2="640" stroke-width="6" stroke-linecap="round"/>
<line x1="272" y1="633" x2="279" y2="640" stroke-width="2" stroke="#fff" stroke-linecap="round"/>
<circle cx="193" cy="655" r="2.6" fill="#fff" stroke-width="2"/>
<circle cx="218" cy="667" r="2.4" fill="#fff" stroke-width="2"/>
<line x1="300" y1="621" x2="310" y2="624" stroke-width="2"/>
<line x1="215" y1="674" x2="215" y2="696" stroke-width="2.4"/>
<rect x="212.8" y="692" width="4.4" height="8" fill="#fff" stroke-width="1.6"/>
<polygon points="210.0,703.5 215,699.0 220.0,703.5 215,708.0" fill="#000" stroke="none"/>
<circle cx="296" cy="661" r="4.6" fill="#000" stroke="none"/>
<rect x="292" y="661" width="8" height="3" fill="#fff" stroke="none"/>
<rect x="293.8" y="684" width="4.4" height="9" fill="#fff" stroke-width="1.6"/>
<circle cx="296" cy="692" r="4" fill="#000" stroke="none"/>
<polyline points="542,560 543,584 550,587" stroke-width="2.2" fill="none"/>
<polygon points="558,533 572,532 573,535 595,540 605,539 606,554 609,558 634,561 644,557 655,557 656,560 648,566 652,572 660,588 666,614 678,638 683,640 684,648 678,652 670,648 652,638 628,634 598,642 586,640 575,646 570,648 572,642 577,630 584,628 583,616 580,611 560,610 550,604 549,592 552,576 556,564 559,562" stroke-width="2.9" fill="#fff"/>
<polyline points="559,562 600,570 606,554" stroke-width="2.2" fill="none"/>
<polyline points="600,540 600,570" stroke-width="2" fill="none"/>
<polyline points="600,570 628,576 648,566" stroke-width="2.2" fill="none"/>
<line x1="628" y1="576" x2="628" y2="632" stroke-width="2.2"/>
<polyline points="582,578 586,624" stroke-width="2" fill="none"/>
<polyline points="556,564 552,590 560,606" stroke-width="1.8" fill="none"/>
<polyline points="652,572 654,600 666,630" stroke-width="2.2" fill="none"/>
<polyline points="645,568 648,598 660,628" stroke-width="1.8" fill="none"/>
<polyline points="575,636 600,630 628,632 655,636" stroke-width="2" fill="none"/>
<polyline points="562,610 575,612 583,616" stroke-width="1.8" fill="none"/>
<ellipse cx="594" cy="600" rx="10" ry="12.5" fill="#fff" stroke-width="2.8" transform="rotate(20 594 600)"/>
<ellipse cx="595.5" cy="600" rx="6.5" ry="9" fill="#fff" stroke-width="2" transform="rotate(20 594 600)"/>
<path d="M591,596 q 4,-1.5 9,0" stroke-width="2.2" fill="none"/>
<path d="M591,600 q 4,-1.5 9,0" stroke-width="2.2" fill="none"/>
<path d="M591,604 q 4,-1.5 9,0" stroke-width="2.2" fill="none"/>
<line x1="556" y1="563" x2="695" y2="622" stroke-width="2.2"/>
<line x1="634" y1="566" x2="692" y2="582" stroke-width="2.2"/>
<line x1="609" y1="556" x2="632" y2="560" stroke-width="1.6"/>
<line x1="572" y1="642" x2="600" y2="656" stroke-width="2.0"/>
<line x1="668" y1="644" x2="652" y2="664" stroke-width="2.0"/>
<circle cx="557" cy="563" r="3.2" fill="#000" stroke="none"/>
<circle cx="635" cy="566" r="3.2" fill="#000" stroke="none"/>
<circle cx="574" cy="642" r="2.6" fill="#000" stroke="none"/>
<circle cx="609" cy="556" r="2.5" fill="#000" stroke="none"/>
<polygon points="636,563 646,556 656,556 654,561 642,567" stroke-width="2.0" fill="#fff"/>
<g transform="rotate(20 699 584)"><rect x="687" y="581.6" width="9" height="4.8" fill="#fff" stroke-width="1.6"/></g>
<circle cx="699" cy="584" r="4.4" fill="#000" stroke="none"/>
<g transform="rotate(20 715.6 600.4)"><rect x="703.6" y="598.0" width="9" height="4.8" fill="#fff" stroke-width="1.6"/></g>
<circle cx="715.6" cy="600.4" r="4.4" fill="#000" stroke="none"/>
<g transform="rotate(20 703 625)"><rect x="691" y="622.6" width="9" height="4.8" fill="#fff" stroke-width="1.6"/></g>
<circle cx="703" cy="625" r="4.4" fill="#000" stroke="none"/>
<g transform="rotate(20 608.4 658)"><rect x="596.4" y="655.6" width="9" height="4.8" fill="#fff" stroke-width="1.6"/></g>
<circle cx="608.4" cy="658" r="4.4" fill="#000" stroke="none"/>
<g transform="rotate(-30 648 666.4)"><rect x="636" y="664.0" width="9" height="4.8" fill="#fff" stroke-width="1.6"/></g>
<circle cx="648" cy="666.4" r="4.4" fill="#000" stroke="none"/>
<path d="M42,629.5 L55,621.5 L63,626.5 L63,631.5 L54,636.5 L62.5,637.5 L62.5,641 L54,646 L54,658 L46,659.5 L42,657 Z" fill="#fff" stroke-width="3.2" stroke-linejoin="round"/>
<path d="M42,629.5 L47,632.5 L47,659.5 M47,632.5 L60,625" fill="none" stroke-width="2.6"/>
<path d="M42,657 L20,664.5 L11,667.5 L9,660.5 L1.5,681 L16,674 L14,682 L54,658" fill="#fff" stroke-width="3.2" stroke-linejoin="round"/>
<path d="M20,664.5 L18,671 L46,659.5" fill="none" stroke-width="1.6"/>
<line x1="324" y1="103" x2="345" y2="103" stroke-width="2.8"/>
<line x1="318" y1="167" x2="345" y2="167" stroke-width="2.8"/>
<line x1="158" y1="235" x2="158" y2="259" stroke-width="2.8"/>
<line x1="201" y1="250" x2="201" y2="274" stroke-width="2.8"/>
<line x1="300" y1="239" x2="327" y2="239" stroke-width="2.8"/>
<line x1="474" y1="102.5" x2="489" y2="102.5" stroke-width="2.8"/>
<line x1="557" y1="111" x2="586" y2="111" stroke-width="2.8"/>
<line x1="597" y1="166" x2="597" y2="179" stroke-width="2.8"/>
<line x1="686" y1="112" x2="710" y2="112" stroke-width="2.8"/>
<line x1="655" y1="175" x2="684" y2="175" stroke-width="2.8"/>
<line x1="700" y1="182.5" x2="700" y2="200" stroke-width="2.8"/>
<line x1="612" y1="247.5" x2="612" y2="270" stroke-width="2.8"/>
<line x1="685" y1="364" x2="685" y2="389" stroke-width="2.8"/>
<line x1="745.6" y1="355" x2="745.6" y2="374" stroke-width="2.8"/>
<line x1="737" y1="375" x2="737" y2="399" stroke-width="2.8"/>
<line x1="785" y1="345" x2="785" y2="385" stroke-width="2.8"/>
<line x1="132.5" y1="416" x2="175" y2="416" stroke-width="2.8"/>
<line x1="112" y1="461" x2="112" y2="477.5" stroke-width="2.8"/>
<line x1="75" y1="476" x2="75" y2="500" stroke-width="2.8"/>
<line x1="75" y1="521" x2="75" y2="542" stroke-width="2.8"/>
<line x1="466" y1="470" x2="492" y2="470" stroke-width="2.8"/>
<line x1="528" y1="532" x2="528" y2="554" stroke-width="2.8"/>
<line x1="493" y1="546" x2="493" y2="576" stroke-width="2.8"/>
<line x1="246" y1="548" x2="272" y2="548" stroke-width="2.8"/>
<line x1="376" y1="602" x2="403" y2="602" stroke-width="2.8"/>
<line x1="370" y1="574" x2="370" y2="596" stroke-width="2.8"/>
<line x1="142.5" y1="653.8" x2="181.5" y2="653.8" stroke-width="2.8"/>
<line x1="219" y1="703.5" x2="243" y2="703.5" stroke-width="2.8"/>
<line x1="215" y1="674" x2="215" y2="698" stroke-width="2.8"/>
<line x1="301.7" y1="661" x2="331" y2="661" stroke-width="2.8"/>
<line x1="301.7" y1="689" x2="326" y2="689" stroke-width="2.8"/>
<line x1="346" y1="632" x2="372" y2="632" stroke-width="2.8"/>
<line x1="596" y1="519" x2="596" y2="537" stroke-width="2.8"/>
<line x1="651" y1="400" x2="667.5" y2="432" stroke-width="2.8"/>
<line x1="570" y1="406" x2="570" y2="436" stroke-width="2.8"/>
<line x1="692" y1="452.5" x2="713" y2="472" stroke-width="2.8"/>
<line x1="689.5" y1="476" x2="713" y2="472" stroke-width="2.8"/>
<line x1="665.6" y1="472" x2="665.6" y2="495" stroke-width="2.8"/>
<line x1="696.4" y1="567" x2="696.4" y2="577" stroke-width="2.8"/>
<line x1="715.6" y1="606" x2="715.6" y2="621" stroke-width="2.8"/>
<line x1="704" y1="632" x2="704" y2="648.5" stroke-width="2.8"/>
<line x1="608.4" y1="665" x2="608.4" y2="683" stroke-width="2.8"/>
<line x1="649.6" y1="672" x2="649.6" y2="683" stroke-width="2.8"/>
</g>
<g font-family="Liberation Sans" font-weight="bold" font-size="25" text-anchor="middle" fill="#000" stroke="#000" stroke-width="0.7">
<text x="306.5" y="107">14</text>
<text x="306.5" y="177">9</text>
<text x="157.5" y="230">10</text>
<text x="198.5" y="246">11</text>
<text x="282.5" y="246">12</text>
<text x="457.5" y="112.5">22</text>
<text x="604.5" y="113">24</text>
<text x="720.5" y="122">8</text>
<text x="604.5" y="202">22</text>
<text x="699.5" y="224">22</text>
<text x="611.0" y="293">23</text>
<text x="684.5" y="412">6</text>
<text x="753.5" y="394.5">15</text>
<text x="737.5" y="419.5">15</text>
<text x="785.5" y="409.5">15</text>
<text x="121.5" y="428.5">1</text>
<text x="109.5" y="458.5">20</text>
<text x="74.0" y="473">19</text>
<text x="73.5" y="563">21</text>
<text x="420.5" y="467">13</text>
<text x="507.5" y="481">30</text>
<text x="521.5" y="574">31</text>
<text x="495.5" y="596">15</text>
<text x="420.5" y="611.5">15</text>
<text x="233.5" y="558">3</text>
<text x="131.5" y="663">2</text>
<text x="260.5" y="706">15</text>
<text x="349.5" y="669">16</text>
<text x="343.5" y="705">17</text>
<text x="388.5" y="641">15</text>
<text x="597.5" y="515">4,5</text>
<text x="643.5" y="398">19</text>
<text x="571.0" y="459">7</text>
<text x="729.5" y="487.5">18</text>
<text x="659.0" y="514">19</text>
<text x="693.5" y="564">17</text>
<text x="731.5" y="644.5">17</text>
<text x="710.5" y="668.5">17</text>
<text x="608.5" y="705.7">17</text>
<text x="650.5" y="705.7">15</text>
</g>
</svg></body></html>
